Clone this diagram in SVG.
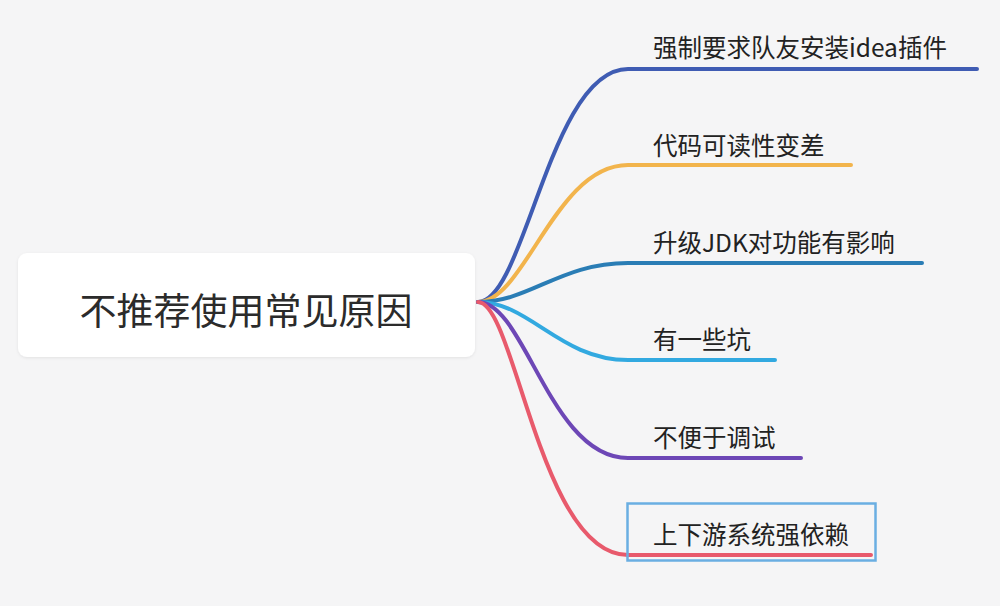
<svg xmlns="http://www.w3.org/2000/svg" width="1000" height="606" viewBox="0 0 1000 606">
<style>
.bg{fill:#f5f5f6}
.root{fill:#ffffff}
.rt{font-family:"Noto Sans CJK SC","Noto Sans",sans-serif;font-size:37px;fill:#2b2b2b}
.lt{font-family:"Noto Sans CJK SC","Noto Sans",sans-serif;font-size:24.5px;fill:#222}
.br{fill:none;stroke-width:4;stroke-linecap:round}
</style>
<defs>
<filter id="sh" x="-5%" y="-10%" width="110%" height="130%"><feDropShadow dx="0" dy="1" stdDeviation="1.5" flood-color="#000" flood-opacity="0.08"/></filter>
</defs>
<rect class="bg" x="0" y="0" width="1000" height="606"/>
<g id="connectors">
<path class="br" stroke="#3f5cb3" d="M478,302 C525,302 550,69 628,69 L977,69"/>
<path class="br" stroke="#f2b44c" d="M478,302 C525,302 555,165 628,165 L851,165"/>
<path class="br" stroke="#2a7db5" d="M478,302 C530,302 560,263 628,263 L922,263"/>
<path class="br" stroke="#32a9e0" d="M478,302 C530,302 560,360 628,360 L775,360"/>
<path class="br" stroke="#6d47b6" d="M478,302 C525,302 550,458 628,458 L801,458"/>
<path class="br" stroke="#e85a6c" d="M478,302 C515,302 540,555 628,555 L871,555"/>
</g>
<g id="root">
<rect class="root" x="18" y="253" width="457" height="104" rx="9" filter="url(#sh)"/>
<text class="rt" x="246" y="325" text-anchor="middle">不推荐使用常见原因</text>
</g>
<g id="n1"><text class="lt" x="653" y="57">强制要求队友安装idea插件</text></g>
<g id="n2"><text class="lt" x="653" y="155">代码可读性变差</text></g>
<g id="n3"><text class="lt" x="653" y="252">升级JDK对功能有影响</text></g>
<g id="n4"><text class="lt" x="653" y="349">有一些坑</text></g>
<g id="n5"><text class="lt" x="653" y="447">不便于调试</text></g>
<g id="n6">
<rect x="627.5" y="503.5" width="248" height="57" fill="none" stroke="#6aaee2" stroke-width="2.5"/>
<text class="lt" x="653" y="544">上下游系统强依赖</text>
</g>
</svg>
